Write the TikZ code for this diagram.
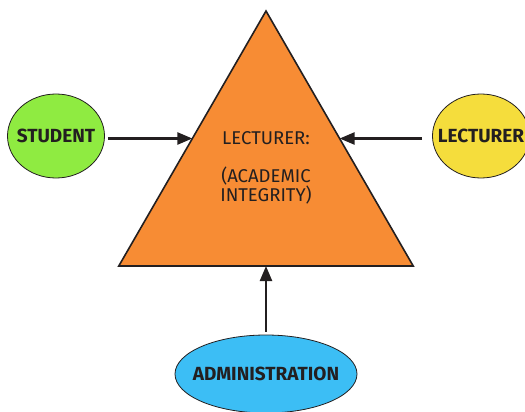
\documentclass[tikz,border=0pt]{standalone}
\usepackage{fontspec}
\setmainfont{Fira Sans}
\usetikzlibrary{shapes.geometric,arrows.meta}

\definecolor{triorange}{RGB}{247,140,52}
\definecolor{studgreen}{RGB}{143,235,65}
\definecolor{lectyellow}{RGB}{245,221,60}
\definecolor{adminblue}{RGB}{60,190,245}
\definecolor{inkgray}{RGB}{35,31,32}

% label that does not stretch its ellipse
\newcommand{\partylabel}[1]{\makebox[0pt]{#1}}

\begin{document}
\begin{tikzpicture}[x=1pt,y=-1pt,
    party/.style={ellipse,draw=inkgray,line width=0.8pt,inner sep=0pt,text=inkgray,font=\bfseries\fontsize{19}{21}\selectfont},
    push/.style={draw=inkgray,line width=2.4pt,-{Triangle[length=15pt,width=12pt]}}]
    \useasboundingbox (0,0) rectangle (525,412);
    \clip (0,0) rectangle (525,412);
    % the triangle in the middle
    \node[regular polygon,regular polygon sides=3,minimum size=340pt,outer sep=0pt,
          draw=inkgray,line width=1.6pt,fill=triorange] (tri) at (266,181) {};
    \node[align=center,text=inkgray,font=\fontsize{18.5}{19}\selectfont] (duty) at (266,168)
        {LECTURER:\\ \\(ACADEMIC\\INTEGRITY)};
    % the three parties round it
    \node[party,fill=studgreen,minimum width=97pt,minimum height=84pt] (student) at (56,136) {\partylabel{STUDENT}};
    \node[party,fill=lectyellow,minimum width=97pt,minimum height=84pt] (lecturer) at (481,136) {\partylabel{LECTURER}};
    \node[party,fill=adminblue,minimum width=182pt,minimum height=78pt] (admin) at (266,374) {\partylabel{ADMINISTRATION}};
    \draw[push] (student.east |- tri.side 1) ++(3,0) -- (tri.side 1);
    \draw[push] (lecturer.west |- tri.side 3) ++(-10,0) -- (tri.side 3);
    \draw[push,shorten <=3pt] (admin.north) -- (tri.side 2);
\end{tikzpicture}
\end{document}
